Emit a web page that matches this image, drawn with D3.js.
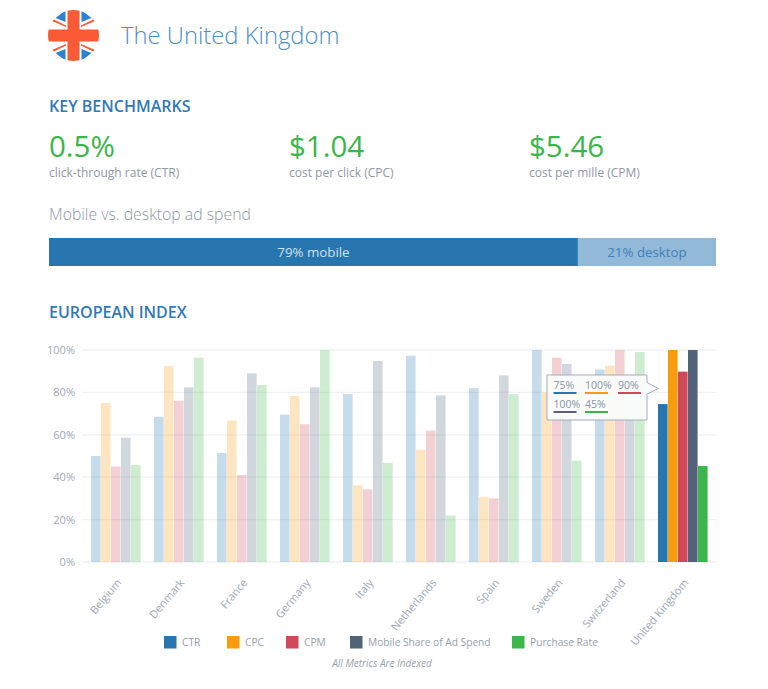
<!DOCTYPE html>
<html><head><meta charset="utf-8">
<script src="https://cdnjs.cloudflare.com/ajax/libs/d3/7.8.5/d3.min.js"></script>
<style>
html,body{margin:0;padding:0;background:#fff}
svg{display:block}
text{font-family:"Open Sans",sans-serif}
</style></head><body>
<svg id="c" width="768" height="689"></svg>
<script>
const countries = ["Belgium","Denmark","France","Germany","Italy","Netherlands","Spain","Sweden","Switzerland","United Kingdom"];
const metrics = ["CTR","CPC","CPM","Mobile Share of Ad Spend","Purchase Rate"];
const colors = ["#2776b0","#f89c0e","#ce4a5a","#52637a","#3cb54a"];
const ctr = [50,68.5,51.4,69.5,79.2,97.3,82,100,90.9,74.5];
const cpc = [75,92.5,66.8,78.3,36.2,53,30.8,80,92.6,100];
const cpm = [45,76,41,65,34.3,62,30,96.4,100,89.8];
const mobile = [58.6,82.4,89,82.4,94.8,78.6,88,93.4,78,100];
const purchase = [45.8,96.4,83.5,100,46.7,21.9,79.2,47.8,99,45.3];
const seriesValues = [ctr,cpc,cpm,mobile,purchase];
const yTicks = [0,20,40,60,80,100];
const kpiValues = ["0.5%","$1.04","$5.46"];
const kpiLabels = ["click-through rate (CTR)","cost per click (CPC)","cost per mille (CPM)"];
const spendShares = [79.3,20.7];
const spendLabels = ["79% mobile","21% desktop"];
const tipLabels = ["75%","100%","90%","100%","45%"];

const svg = d3.select("#c");
const blue="#2f7ab5", green="#3cb54a", grey="#8f98a3";

// flag
const defs = svg.append("defs");
defs.append("clipPath").attr("id","fc").append("circle").attr("cx",73.5).attr("cy",35.5).attr("r",25.5);
const flag = svg.append("g").attr("clip-path","url(#fc)");
flag.append("rect").attr("x",47).attr("y",9).attr("width",53).attr("height",53).attr("fill","#fff");
[[[55.5,18],[65.5,10],[65.5,22]],[[81.5,10],[81.5,22],[91.5,18]],[[55.5,53],[65.5,49],[65.5,61]],[[81.5,49],[81.5,61],[91.5,53]]]
  .forEach(p=>flag.append("path").attr("d",d3.line()(p)+"Z").attr("fill","#2d82d0"));
[[[52,21],[53,19],[66,25.5],[66,27]],[[95,21],[94,19],[81,25.5],[81,27]],[[52,50],[53,52],[66,45.5],[66,44]],[[95,50],[94,52],[81,45.5],[81,44]]]
  .forEach(p=>flag.append("path").attr("d",d3.line()(p)+"Z").attr("fill","#fa5a36"));
flag.append("rect").attr("x",67.5).attr("y",9).attr("width",12).attr("height",53).attr("fill","#fa5a36");
flag.append("rect").attr("x",47).attr("y",29.5).attr("width",53).attr("height",12).attr("fill","#fa5a36");

const txt=(x,y,s,size,fill,weight,extra)=>{
  const t=svg.append("text").attr("x",x).attr("y",y).text(s).attr("font-size",size).attr("fill",fill).attr("font-weight",weight||400);
  if(extra) extra(t); return t;
};
txt(121,44,"The United Kingdom",23.8,"#4a90c4",300);
txt(49,112,"KEY BENCHMARKS",16,blue,600);
txt(49,318,"EUROPEAN INDEX",16,blue,600);
const kpiX=[49,289,529];
kpiValues.forEach((v,i)=>{
  txt(kpiX[i],156.5,v,29.5,green,400);
  txt(kpiX[i],177,kpiLabels[i],12,grey,400);
});
txt(49,219.5,"Mobile vs. desktop ad spend",15.8,grey,300);

// spend bar
const sx=d3.scaleLinear().domain([0,100]).range([49,716]);
const spendColors=["#2776b0","#93b9d8"], spendText=["#cfe0ee","#3f80b8"];
let acc=0;
spendShares.forEach((v,i)=>{
  svg.append("rect").attr("x",sx(acc)).attr("y",238).attr("width",sx(acc+v)-sx(acc)).attr("height",28).attr("fill",spendColors[i]);
  txt((sx(acc)+sx(acc+v))/2,257,spendLabels[i],13.3,spendText[i],400,t=>t.attr("text-anchor","middle"));
  acc+=v;
});

// chart
const x=d3.scaleBand().domain(countries).range([84.5,714.5]).paddingInner(0.2).paddingOuter(0.1);
const y=d3.scaleLinear().domain([0,100]).range([562,350]);
const x1=d3.scaleBand().domain(metrics).range([0,50]);
const grid=svg.append("g");
grid.selectAll("line").data(yTicks).join("line")
  .attr("x1",82).attr("x2",716).attr("y1",d=>y(d)).attr("y2",d=>y(d))
  .attr("stroke","#eef0f2").attr("stroke-width",1.3);
const yAxis=svg.append("g").attr("transform","translate(82,0)")
  .call(d3.axisLeft(y).tickValues(yTicks).tickSize(0).tickPadding(7).tickFormat(d=>d+"%"));
yAxis.select(".domain").remove();
yAxis.selectAll("text").attr("font-size",11).attr("fill","#a0a8b3").style("font-family",'"Open Sans",sans-serif');

countries.forEach((c,ci)=>{
  const g=svg.append("g");
  const bx=x(c)+(x.bandwidth()-50)/2;
  metrics.forEach((m,mi)=>{
    const v=seriesValues[mi][ci];
    g.append("rect").attr("x",bx+x1(m)).attr("y",y(v)).attr("width",x1.bandwidth()-0.4)
      .attr("height",y(0)-y(v)).attr("fill",colors[mi]).attr("opacity",c==="United Kingdom"?1:0.26);
  });
});
const xAxis=svg.append("g").attr("transform","translate(0,562)")
  .call(d3.axisBottom(x).tickSize(0).tickPadding(0));
xAxis.select(".domain").remove();
xAxis.selectAll("text").attr("font-size",11).attr("fill","#a0a8b3").style("font-family",'"Open Sans",sans-serif')
  .attr("text-anchor","end").attr("dy",0).attr("transform","translate(6,21) rotate(-50)");

// tooltip
const tip=svg.append("g");
tip.append("path").attr("d",d3.line()([[547,375],[647,375],[647,382.5],[658.5,388.5],[647,394],[647,420],[547,420]])+"Z")
  .attr("fill","#fafbfb").attr("fill-opacity",0.97).attr("stroke","#a3adb9").attr("stroke-width",1);
const tipPos=[[553.5,389],[585,389],[618,389],[553.5,408],[585,408]];
tipLabels.forEach((s,i)=>{
  const [px,py]=tipPos[i];
  txt(px,py,s,10.5,"#8a95a3",400);
  svg.append("rect").attr("x",px).attr("y",py+3).attr("width",23).attr("height",2).attr("fill",colors[i]);
});

// legend
const legX=[164,227,286,350,512];
metrics.forEach((m,i)=>{
  svg.append("rect").attr("x",legX[i]).attr("y",636).attr("width",12.5).attr("height",12.5).attr("fill",colors[i]);
  txt(legX[i]+18,646,m,10.2,"#98a0ab",400);
});
txt(382,667,"All Metrics Are Indexed",10,"#9aa2ac",400,t=>t.attr("text-anchor","middle").attr("font-style","italic"));
</script></body></html>
